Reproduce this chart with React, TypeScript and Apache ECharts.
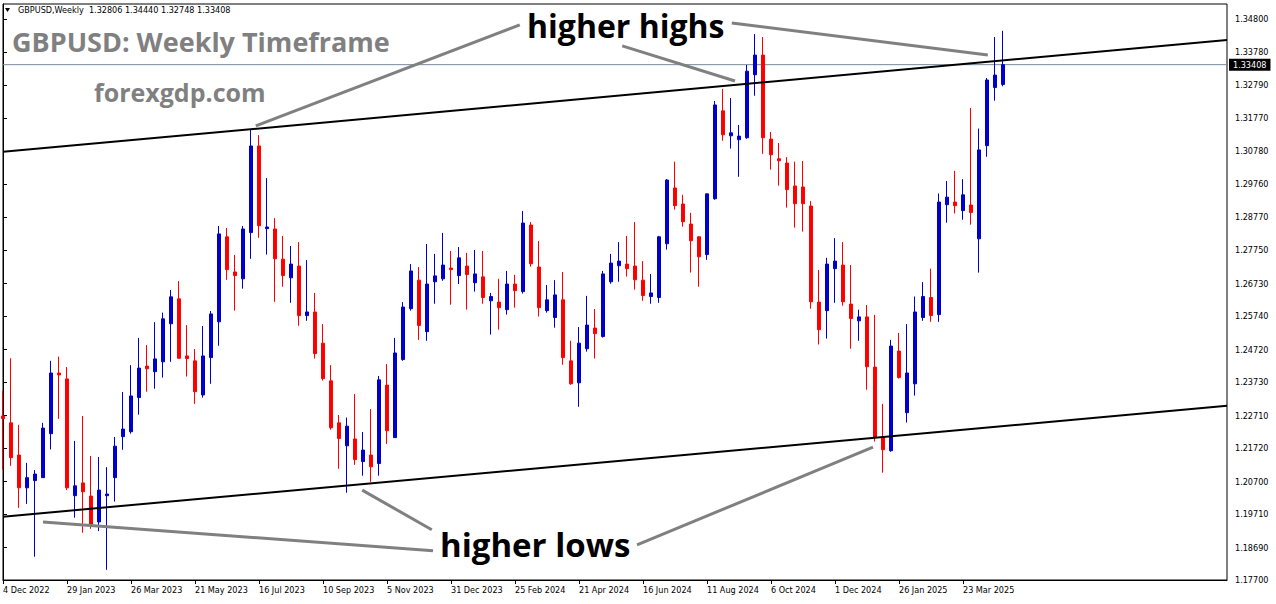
import React, { useEffect, useRef } from "react";
import * as echarts from "echarts";

// Weekly GBPUSD candles, index 0 = week of 4 Dec 2022
const opens = [
  1.2270, 1.2249, 1.2151, 1.2051, 1.2073, 1.2082, 1.2216, 1.2401, 1.2383, 1.2027,
  1.2066, 1.2026, 1.1947, 1.2027, 1.2082, 1.2207, 1.2222, 1.2326, 1.2422, 1.2405,
  1.2435, 1.2551, 1.2627, 1.2453, 1.2438, 1.2334, 1.2448, 1.2557, 1.2816, 1.2709,
  1.2688, 1.2829, 1.3093, 1.2841, 1.2840, 1.2748, 1.2691, 1.2727, 1.2576, 1.2587,
  1.2492, 1.2377, 1.2249, 1.2179, 1.2200, 1.2131, 1.2151, 1.2125, 1.2364, 1.2204,
  1.2442, 1.2597, 1.2684, 1.2527, 1.2679, 1.2688, 1.2721, 1.2698, 1.2727, 1.2676,
  1.2694, 1.2621, 1.2617, 1.2594, 1.2672, 1.2649, 1.2852, 1.2724, 1.2591, 1.2570,
  1.2624, 1.2438, 1.2371, 1.2475, 1.2538, 1.2512, 1.2679, 1.2728, 1.2733, 1.2727,
  1.2684, 1.2634, 1.2631, 1.2795, 1.2965, 1.2916, 1.2855, 1.2816, 1.2762, 1.2932,
  1.3200, 1.3124, 1.3112, 1.3118, 1.3310, 1.3370, 1.3114, 1.3054, 1.3041, 1.2971,
  1.2968, 1.2910, 1.2617, 1.2591, 1.2719, 1.2730, 1.2611, 1.2560, 1.2572, 1.2419,
  1.2206, 1.2164, 1.2468, 1.2280, 1.2368, 1.2570, 1.2631, 1.2579, 1.2914, 1.2922,
  1.2896, 1.2913, 1.2810, 1.3094, 1.3271, 1.32806,
];
const closes = [
  1.2262, 1.2143, 1.2051, 1.2082, 1.2093, 1.2233, 1.2401, 1.2395, 1.2051, 1.2057,
  1.2039, 1.1939, 1.2044, 1.2032, 1.2178, 1.2230, 1.2331, 1.2416, 1.2414, 1.2444,
  1.2566, 1.2633, 1.2446, 1.2445, 1.2344, 1.2453, 1.2581, 1.2825, 1.2716, 1.2698,
  1.2840, 1.3093, 1.2850, 1.2846, 1.2749, 1.2698, 1.2733, 1.2576, 1.2587, 1.2460,
  1.2384, 1.2234, 1.2201, 1.2239, 1.2137, 1.2166, 1.2115, 1.2380, 1.2225, 1.2462,
  1.2602, 1.2712, 1.2546, 1.2672, 1.2697, 1.2730, 1.2716, 1.2752, 1.2701, 1.2703,
  1.2631, 1.2634, 1.2600, 1.2672, 1.2652, 1.2858, 1.2734, 1.2600, 1.2624, 1.2639,
  1.2448, 1.2368, 1.2492, 1.2547, 1.2521, 1.2703, 1.2736, 1.2742, 1.2719, 1.2685,
  1.2637, 1.2645, 1.2816, 1.2989, 1.2911, 1.2862, 1.2804, 1.2755, 1.2947, 1.3218,
  1.3127, 1.3133, 1.3123, 1.3321, 1.3370, 1.3118, 1.3066, 1.3048, 1.2960, 1.2917,
  1.2917, 1.2618, 1.2533, 1.2733, 1.2742, 1.2618, 1.2567, 1.2572, 1.2420, 1.2204,
  1.2167, 1.2483, 1.2387, 1.2401, 1.2587, 1.2634, 1.2576, 1.2922, 1.2937, 1.2911,
  1.2944, 1.2890, 1.3081, 1.3294, 1.3309, 1.33408,
];
const lows = [
  1.2107, 1.2118, 1.1990, 1.2002, 1.1841, 1.2081, 1.2168, 1.2261, 1.2044, 1.1960,
  1.1914, 1.1926, 1.1919, 1.1801, 1.2009, 1.2167, 1.2216, 1.2274, 1.2344, 1.2353,
  1.2387, 1.2435, 1.2444, 1.2390, 1.2307, 1.2326, 1.2368, 1.2484, 1.2685, 1.2591,
  1.2658, 1.2749, 1.2813, 1.2762, 1.2618, 1.2664, 1.2615, 1.2545, 1.2560, 1.2445,
  1.2378, 1.2228, 1.2109, 1.2036, 1.2121, 1.2088, 1.2069, 1.2088, 1.2185, 1.2203,
  1.2438, 1.2591, 1.2502, 1.2499, 1.2612, 1.2682, 1.2609, 1.2672, 1.2594, 1.2649,
  1.2612, 1.2518, 1.2533, 1.2579, 1.2600, 1.2643, 1.2725, 1.2573, 1.2585, 1.2539,
  1.2426, 1.2365, 1.2298, 1.2466, 1.2445, 1.2509, 1.2673, 1.2679, 1.2695, 1.2655,
  1.2621, 1.2612, 1.2615, 1.2777, 1.2899, 1.2847, 1.2707, 1.2664, 1.2746, 1.2929,
  1.3109, 1.3085, 1.2999, 1.3115, 1.3246, 1.3069, 1.3021, 1.2972, 1.2905, 1.2844,
  1.2832, 1.2597, 1.2488, 1.2506, 1.2615, 1.2606, 1.2475, 1.2499, 1.2350, 1.2192,
  1.2097, 1.2161, 1.2384, 1.2250, 1.2332, 1.2560, 1.2557, 1.2557, 1.2859, 1.2887,
  1.2868, 1.2853, 1.2707, 1.3060, 1.3231, 1.32748,
];
const highs = [
  1.2346, 1.2446, 1.2243, 1.2127, 1.2105, 1.2249, 1.2438, 1.2451, 1.2419, 1.2194,
  1.2270, 1.2148, 1.2145, 1.2114, 1.2206, 1.2343, 1.2425, 1.2508, 1.2486, 1.2556,
  1.2585, 1.2654, 1.2681, 1.2547, 1.2474, 1.2544, 1.2590, 1.2849, 1.2843, 1.2761,
  1.2849, 1.3142, 1.3126, 1.2995, 1.2873, 1.2819, 1.2788, 1.2800, 1.2745, 1.2645,
  1.2550, 1.2425, 1.2273, 1.2265, 1.2337, 1.2221, 1.2291, 1.2392, 1.2428, 1.2508,
  1.2617, 1.2733, 1.2724, 1.2794, 1.2764, 1.2828, 1.2773, 1.2785, 1.2767, 1.2776,
  1.2773, 1.2645, 1.2688, 1.2712, 1.2700, 1.2895, 1.2861, 1.2803, 1.2669, 1.2684,
  1.2709, 1.2499, 1.2541, 1.2636, 1.2596, 1.2712, 1.2764, 1.2800, 1.2819, 1.2861,
  1.2742, 1.2703, 1.2819, 1.2992, 1.3045, 1.2944, 1.2889, 1.2818, 1.2948, 1.3230,
  1.3267, 1.3239, 1.3157, 1.3340, 1.3434, 1.3425, 1.3136, 1.3102, 1.3059, 1.3045,
  1.3047, 1.2925, 1.2715, 1.2752, 1.2812, 1.2800, 1.2730, 1.2594, 1.2608, 1.2578,
  1.2307, 1.2502, 1.2523, 1.2550, 1.2634, 1.2678, 1.2719, 1.2948, 1.2986, 1.3017,
  1.2992, 1.3209, 1.3146, 1.3300, 1.3425, 1.34440,
];

const xTickLabels = [
  "4 Dec 2022", "29 Jan 2023", "26 Mar 2023", "21 May 2023", "16 Jul 2023",
  "10 Sep 2023", "5 Nov 2023", "31 Dec 2023", "25 Feb 2024", "21 Apr 2024",
  "16 Jun 2024", "11 Aug 2024", "6 Oct 2024", "1 Dec 2024", "26 Jan 2025",
  "23 Mar 2025",
];
const yTickValues = [
  1.177, 1.1869, 1.1971, 1.207, 1.2172, 1.2271, 1.2373, 1.2472, 1.2574,
  1.2673, 1.2775, 1.2877, 1.2976, 1.3078, 1.3177, 1.3279, 1.3378, 1.348,
];
const lastPrice = 1.33408;
const headerText = "GBPUSD,Weekly  1.32806 1.34440 1.32748 1.33408";

// channel trend lines [barIndex, price]
const upperChannel = [[0, 1.3075], [153, 1.3416]];
const lowerChannel = [[0, 1.1963], [153, 1.2301]];
// gray annotation pointers [barIndex, price]
const pointerLines = [
  [[31.6, 1.3154], [64.6, 1.3462]],
  [[77.4, 1.3398], [91.5, 1.3291]],
  [[91.1, 1.3468], [123.1, 1.3370]],
  [[5.0, 1.1947], [53.75, 1.1859]],
  [[44.9, 1.2044], [53.6, 1.1923]],
  [[79.25, 1.1877], [108.75, 1.2175]],
];

const SLOTS = 154;
const axisFont = "'DejaVu Sans Condensed', 'DejaVu Sans', sans-serif";

export default function App() {
  const ref = useRef<HTMLDivElement>(null);
  useEffect(() => {
    if (!ref.current) return;
    const chart = echarts.init(ref.current, null, { renderer: "svg" });
    const categories = Array.from({ length: SLOTS }, (_, i) => "w" + i);
    const candleData = opens.map((o, i) => [o, closes[i], lows[i], highs[i]]);
    const lastIdx = opens.length - 1;
    const showTick = (i: number) => i % 8 === 0 && i <= lastIdx;

    const lineSeries = (data: number[][], color: string, width: number, z = 5) => ({
      type: "line",
      xAxisIndex: 1,
      yAxisIndex: 0,
      data,
      symbol: "none",
      silent: true,
      lineStyle: { color, width, cap: "butt" },
      z,
    });

    chart.setOption({
      animation: false,
      backgroundColor: "#ffffff",
      grid: {
        left: 3,
        top: 4,
        width: 1224,
        height: 576,
        show: true,
        borderColor: "#000",
        borderWidth: 1,
      },
      xAxis: [
        {
          type: "category",
          data: categories,
          boundaryGap: false,
          axisLine: { show: true, lineStyle: { color: "#000", width: 1 } },
          axisTick: {
            show: true,
            interval: (i: number) => showTick(i),
            length: 4,
            lineStyle: { color: "#000" },
          },
          axisLabel: {
            interval: (i: number) => showTick(i),
            formatter: (_v: string, i: number) => xTickLabels[i / 8] ?? "",
            align: "left",
            margin: 5,
            color: "#000",
            fontFamily: axisFont,
            fontSize: 9,
          },
          splitLine: { show: false },
        },
        { type: "value", min: 0, max: SLOTS - 1, show: false },
      ],
      yAxis: {
        type: "value",
        position: "right",
        min: 1.177,
        max: 1.35257,
        axisLine: { show: true, lineStyle: { color: "#000", width: 1 } },
        axisTick: {
          show: true,
          length: 4,
          customValues: yTickValues,
          lineStyle: { color: "#000" },
        },
        axisLabel: {
          customValues: yTickValues,
          formatter: (v: number) => v.toFixed(5),
          margin: 8,
          color: "#000",
          fontFamily: axisFont,
          fontSize: 9,
        },
        splitLine: { show: false },
      },
      series: [
        {
          ...lineSeries([[0, lastPrice], [SLOTS - 1, lastPrice]], "#778899", 1, 1),
          endLabel: {
            show: true,
            formatter: lastPrice.toFixed(5),
            backgroundColor: "#000",
            color: "#fff",
            padding: [2, 4, 1, 4],
            distance: 2,
            fontFamily: axisFont,
            fontSize: 9,
          },
        },
        {
          type: "candlestick",
          xAxisIndex: 0,
          yAxisIndex: 0,
          data: candleData,
          barWidth: 4,
          z: 3,
          itemStyle: {
            color: "#0000CD",
            color0: "#FF0000",
            borderColor: "#0000CD",
            borderColor0: "#FF0000",
            borderWidth: 1,
          },
        },
        lineSeries(upperChannel, "#000", 2),
        lineSeries(lowerChannel, "#000", 2),
        ...pointerLines.map((l) => lineSeries(l, "#808080", 3)),
      ],
      graphic: [
        {
          type: "polygon",
          shape: { points: [[5, 8], [10, 8], [7.5, 12]] },
          style: { fill: "#000" },
        },
        {
          type: "text",
          x: 18,
          y: 10,
          style: {
            text: headerText,
            fill: "#000",
            font: "9px " + axisFont,
            verticalAlign: "middle",
          },
        },
        {
          type: "text",
          x: 12,
          y: 41,
          style: {
            text: "GBPUSD: Weekly Timeframe",
            fill: "#808080",
            font: "bold 27px 'Open Sans'",
            verticalAlign: "middle",
          },
        },
        {
          type: "text",
          x: 94,
          y: 92,
          style: {
            text: "forexgdp.com",
            fill: "#808080",
            font: "bold 25px 'Open Sans'",
            verticalAlign: "middle",
          },
        },
        {
          type: "text",
          x: 527,
          y: 25,
          style: {
            text: "higher highs",
            fill: "#000",
            font: "bold 32px 'Open Sans'",
            verticalAlign: "middle",
          },
        },
        {
          type: "text",
          x: 440,
          y: 544,
          style: {
            text: "higher lows",
            fill: "#000",
            font: "bold 33px 'Open Sans'",
            verticalAlign: "middle",
          },
        },
      ],
    });
    return () => chart.dispose();
  }, []);
  return (
    <div
      ref={ref}
      style={{ position: "fixed", left: 0, top: 0, width: 1276, height: 604, background: "#fff" }}
    />
  );
}
